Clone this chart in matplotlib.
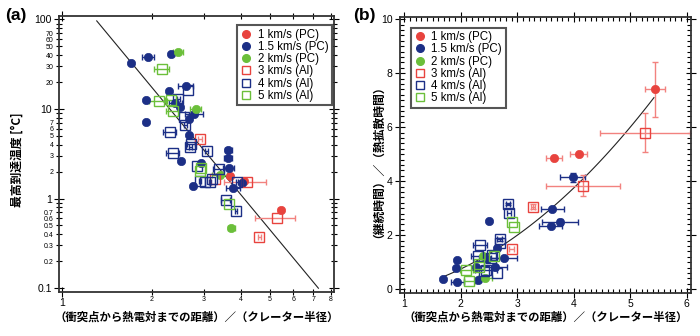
import numpy as np
import matplotlib.pyplot as plt
from matplotlib.lines import Line2D

plt.rcParams['font.family'] = ['Liberation Sans', 'Noto Sans CJK JP', 'DejaVu Sans']
JP = ['Noto Sans CJK JP', 'DejaVu Sans']

RED = '#e8433e'
BLUE = '#1c2f86'
GREEN = '#6bbf3a'
RED_ERR = '#f2827f'

series_labels = ['1 km/s (PC)', '1.5 km/s (PC)', '2 km/s (PC)',
                 '3 km/s (Al)', '4 km/s (Al)', '5 km/s (Al)']

# (a) distance / crater radius, peak temperature rise [degC], x error
a_pc1 = [(3.67, 1.80, 0.0), (4.09, 1.55, 0.0), (5.44, 0.74, 0.1)]
a_pc15 = [(1.94, 38.3, 0.09), (2.32, 41.0, 0.0), (1.70, 32.5, 0.0),
          (2.60, 18.2, 0.15), (2.28, 15.8, 0.0), (1.91, 12.6, 0.0),
          (2.40, 11.8, 0.12), (2.49, 10.6, 0.0), (2.78, 8.7, 0.2),
          (2.66, 7.8, 0.0), (1.92, 7.1, 0.0), (2.68, 5.1, 0.0),
          (3.62, 3.5, 0.1), (3.61, 2.85, 0.12), (2.51, 2.62, 0.0),
          (2.93, 2.47, 0.0), (3.63, 2.18, 0.15), (2.76, 1.38, 0.0),
          (3.76, 1.32, 0.2), (4.02, 1.48, 0.0)]
a_pc2 = [(2.45, 43.0, 0.1), (2.81, 10.0, 0.12), (3.39, 1.83, 0.2),
         (3.70, 0.465, 0.1)]
a_al3 = [(2.91, 4.6, 0.04), (3.27, 1.66, 0.0), (4.17, 1.52, 0.67),
         (5.27, 0.60, 0.82), (4.60, 0.37, 0.05)]
a_al4 = [(2.64, 16.3, 0.0), (2.46, 13.0, 0.03), (2.56, 8.1, 0.0),
         (2.59, 6.6, 0.03), (2.30, 5.6, 0.12), (2.71, 4.1, 0.08),
         (2.70, 3.75, 0.03), (3.06, 3.4, 0.04), (2.35, 3.22, 0.12),
         (2.83, 2.3, 0.0), (3.36, 2.12, 0.15), (2.91, 1.58, 0.03),
         (3.02, 1.52, 0.0), (3.14, 1.52, 0.03), (3.18, 1.66, 0.0),
         (3.86, 1.54, 0.03), (3.55, 0.96, 0.12), (3.84, 0.73, 0.03)]
a_al5 = [(2.16, 28.0, 0.12), (2.11, 12.4, 0.15), (2.32, 12.5, 0.1),
         (2.35, 9.4, 0.12), (2.92, 2.18, 0.0), (2.90, 2.05, 0.0),
         (3.65, 0.87, 0.0)]

# (b) distance / crater radius, duration / diffusion time, x error, y error
b_pc1 = [(3.65, 4.85, 0.15, 0.0), (4.09, 4.99, 0.15, 0.0),
         (5.44, 7.40, 0.18, 1.03)]
b_pc15 = [(3.98, 4.14, 0.22, 0.18), (3.62, 2.96, 0.2, 0.0),
          (3.76, 2.49, 0.32, 0.1), (3.59, 2.34, 0.2, 0.0),
          (2.50, 2.52, 0.0, 0.0), (2.65, 1.52, 0.0, 0.0),
          (2.77, 1.14, 0.23, 0.0), (1.93, 1.08, 0.0, 0.0),
          (1.91, 0.80, 0.0, 0.0), (2.46, 1.12, 0.0, 0.0),
          (2.61, 0.81, 0.2, 0.0), (2.27, 0.81, 0.0, 0.0),
          (2.31, 0.34, 0.0, 0.0), (1.69, 0.37, 0.0, 0.0),
          (1.94, 0.27, 0.12, 0.0)]
b_pc2 = [(2.40, 1.22, 0.0, 0.0), (2.43, 0.42, 0.12, 0.0)]
b_al3 = [(5.26, 5.80, 0.8, 0.71), (4.16, 3.84, 0.65, 0.39),
         (3.28, 3.06, 0.04, 0.1), (2.90, 1.50, 0.04, 0.0)]
b_al4 = [(2.84, 3.16, 0.04, 0.05), (2.85, 2.81, 0.04, 0.0),
         (2.69, 1.85, 0.04, 0.05), (2.70, 1.72, 0.0, 0.0),
         (2.34, 1.63, 0.12, 0.0), (2.56, 1.27, 0.0, 0.0),
         (2.53, 1.15, 0.2, 0.0), (2.30, 1.22, 0.12, 0.0),
         (2.42, 0.68, 0.0, 0.0), (2.64, 0.59, 0.0, 0.0),
         (2.45, 0.72, 0.2, 0.0)]
b_al5 = [(2.90, 2.48, 0.0, 0.0), (2.94, 2.32, 0.0, 0.0),
         (2.10, 0.71, 0.12, 0.0), (2.33, 0.84, 0.0, 0.0),
         (2.15, 0.32, 0.1, 0.0), (2.58, 1.22, 0.0, 0.0),
         (2.33, 0.94, 0.0, 0.0)]

# fitted relations: T = A * r^-4 and t = (r^2 - 1) / 4
fit_a_coef, fit_a_pow, fit_a_range = 280.0, -4.0, (1.306, 7.28)
fit_b_range = (1.70, 5.42)

colors = [RED, BLUE, GREEN, RED, BLUE, GREEN]
err_colors = [RED_ERR, BLUE, GREEN, RED_ERR, BLUE, GREEN]
markers = ['o', 'o', 'o', 's', 's', 's']


def draw(ax, rows, color, ecolor, marker):
    arr = np.array(rows, dtype=float)
    x, y, xe = arr[:, 0], arr[:, 1], arr[:, 2]
    ye = arr[:, 3] if arr.shape[1] > 3 else np.zeros_like(x)
    m = xe > 0
    if m.any():
        ax.errorbar(x[m], y[m], xerr=xe[m], fmt='none', ecolor=ecolor,
                    elinewidth=1.0, capsize=2, capthick=1.0, zorder=2)
    m = ye > 0
    if m.any():
        ax.errorbar(x[m], y[m], yerr=ye[m], fmt='none', ecolor=ecolor,
                    elinewidth=1.0, capsize=2, capthick=1.0, zorder=2)
    if marker == 'o':
        ax.plot(x, y, ls='none', marker='o', ms=6, mfc=color, mec=color,
                mew=0.5, zorder=3)
    else:
        ax.plot(x, y, ls='none', marker='s', ms=6.5, mfc='none', mec=color,
                mew=1.0, zorder=3)


def legend(ax, loc, anchor):
    handles = []
    for c, mk in zip(colors, markers):
        if mk == 'o':
            h = Line2D([], [], ls='none', marker='o', ms=5.5, mfc=c, mec=c)
        else:
            h = Line2D([], [], ls='none', marker='s', ms=5.5, mfc='none',
                       mec=c, mew=1.0)
        handles.append(h)
    lg = ax.legend(handles, series_labels, loc=loc, bbox_to_anchor=anchor,
                   borderaxespad=0, fontsize=8.3, handlelength=1.0,
                   handletextpad=0.5, labelspacing=0.02, borderpad=0.3,
                   fancybox=False, framealpha=1)
    lg.get_frame().set_edgecolor('#555555')
    lg.get_frame().set_linewidth(1.5)


fig = plt.figure(figsize=(7, 3.36), dpi=100)
ax_a = fig.add_axes([0.0847, 0.131, 0.393, 0.821])
ax_b = fig.add_axes([0.5714, 0.129, 0.4153, 0.8214])

# ---- (a) peak temperature, log-log
a_sets = [a_pc1, a_pc15, a_pc2, a_al3, a_al4, a_al5]
for rows, c, ec, mk in zip(a_sets, colors, err_colors, markers):
    draw(ax_a, rows, c, ec, mk)
rx = np.geomspace(*fit_a_range, 50)
ax_a.plot(rx, fit_a_coef * rx ** fit_a_pow, color='#222222', lw=0.8, zorder=1)

ax_a.set_xscale('log')
ax_a.set_yscale('log')
ax_a.set_xlim(0.977, 8.24)
ax_a.set_ylim(0.0905, 108.8)
ax_a.set_xticks([1], ['1'])
x_minor = [2, 3, 4, 5, 6, 7, 8]
ax_a.set_xticks(x_minor, [str(v) for v in x_minor], minor=True)
ax_a.set_yticks([0.1, 1, 10, 100], ['0.1', '1', '10', '100'])
y_minor = [k * 10.0 ** d for d in (-1, 0, 1) for k in range(2, 10)]
y_minor_lab = []
for d in (-1, 0, 1):
    for k in range(2, 10):
        v = k * 10.0 ** d
        y_minor_lab.append(('%g' % v) if k <= 7 else '')
ax_a.set_yticks(y_minor, y_minor_lab, minor=True)
ax_a.tick_params(which='both', direction='inout', top=True, right=True,
                 width=0.8, pad=2)
ax_a.tick_params(which='major', length=7, labelsize=7.5)
ax_a.tick_params(which='minor', length=4, labelsize=5)
ax_a.tick_params(axis='x', which='minor', pad=1)
ax_a.tick_params(axis='x', which='major', pad=1)
legend(ax_a, 'upper right', (0.991, 0.967))

# ---- (b) normalized duration, linear
b_sets = [b_pc1, b_pc15, b_pc2, b_al3, b_al4, b_al5]
for rows, c, ec, mk in zip(b_sets, colors, err_colors, markers):
    draw(ax_b, rows, c, ec, mk)
rx = np.linspace(*fit_b_range, 80)
ax_b.plot(rx, (rx ** 2 - 1) / 4, color='#222222', lw=0.8, zorder=1)

ax_b.set_xlim(0.924, 6.07)
ax_b.set_ylim(-0.126, 10.09)
ax_b.set_xticks(range(1, 7))
ax_b.set_yticks(range(0, 11, 2))
ax_b.set_xticks(np.arange(1, 6.01, 0.1), minor=True)
ax_b.set_yticks(np.arange(0, 10.01, 0.2), minor=True)
ax_b.tick_params(which='both', top=True, right=True, width=0.8, pad=2)
ax_b.tick_params(which='major', direction='inout', length=7, labelsize=7.5)
ax_b.tick_params(axis='x', which='major', pad=1)
ax_b.tick_params(which='minor', direction='in', length=3)
legend(ax_b, 'upper left', (0.037, 0.96))

for ax in (ax_a, ax_b):
    for s in ax.spines.values():
        s.set_linewidth(1.3)
        s.set_color('#333333')

xlab = '（衝突点から熱電対までの距離）／（クレーター半径）'
fig.text(0.007, 0.955, '(a)', fontsize=12.5, weight='bold', va='center')
fig.text(0.505, 0.955, '(b)', fontsize=12.5, weight='bold', va='center')
fig.text(17 / 700, 1 - 160 / 336, '最高到達温度 [°C]', rotation=90,
         ha='center', va='center', fontsize=8.5, weight='bold', family=JP)
fig.text(197 / 700, 1 - 317 / 336, xlab, ha='center', va='center',
         fontsize=8.2, weight='bold', family=JP)
fig.text(373 / 700, 1 - 156 / 336, '（継続時間）／（熱拡散時間）', rotation=90,
         ha='center', va='center', fontsize=8.5, weight='bold', family=JP)
fig.text(546 / 700, 1 - 317 / 336, xlab, ha='center', va='center',
         fontsize=8.2, weight='bold', family=JP)

fig.savefig('out.png', dpi=100)
